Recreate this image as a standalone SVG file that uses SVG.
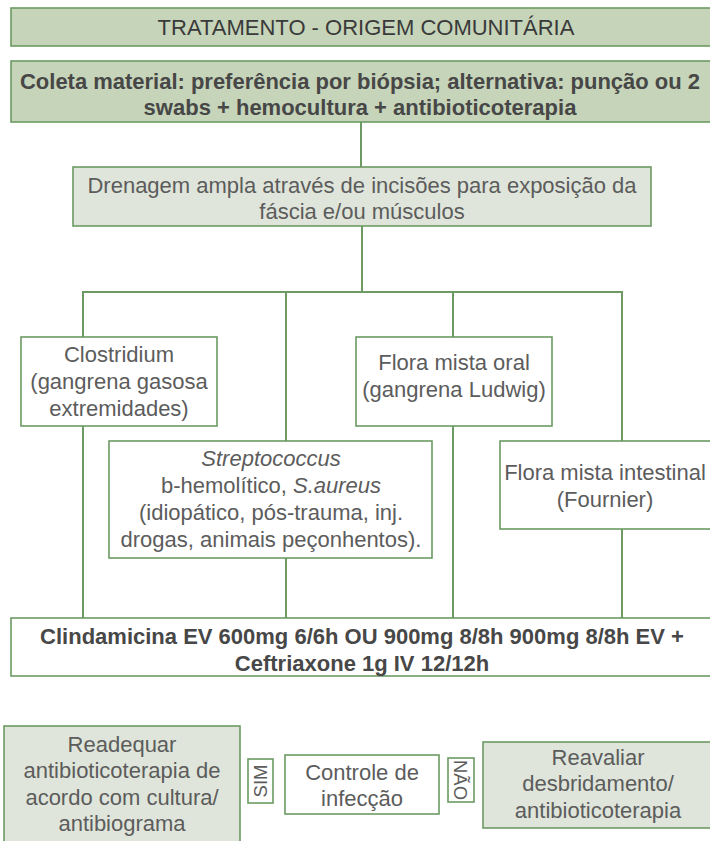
<svg xmlns="http://www.w3.org/2000/svg" width="710" height="841" viewBox="0 0 710 841">
  <style>
    .box { stroke: #6c9a62; stroke-width: 1.6; }
    .dark { fill: #c6d4b9; }
    .light { fill: #dfe5da; }
    .plain { fill: #ffffff; }
    .conn { stroke: #6c9a62; stroke-width: 2; fill: none; }
    text { font-family: "Liberation Sans", Arial, Helvetica, sans-serif; font-size: 22px; fill: #5c5c5c; text-anchor: middle; }
    .head { fill: #3a3a3a; }
    .strong { fill: #474747; font-weight: bold; }
    .tag { font-size: 18.5px; }
  </style>
  <rect width="710" height="841" fill="#ffffff"/>

  <!-- connectors -->
  <g id="connectors">
    <line class="conn" x1="361" y1="122" x2="361" y2="167"/>
    <line class="conn" x1="362" y1="226" x2="362" y2="292"/>
    <line class="conn" x1="82" y1="292" x2="623" y2="292"/>
    <line class="conn" x1="83" y1="292" x2="83" y2="337"/>
    <line class="conn" x1="83" y1="426" x2="83" y2="618"/>
    <line class="conn" x1="286" y1="292" x2="286" y2="441"/>
    <line class="conn" x1="286" y1="558" x2="286" y2="618"/>
    <line class="conn" x1="453" y1="292" x2="453" y2="337"/>
    <line class="conn" x1="453" y1="426" x2="453" y2="618"/>
    <line class="conn" x1="622" y1="292" x2="622" y2="441"/>
    <line class="conn" x1="622" y1="529" x2="622" y2="618"/>
  </g>

  <g id="titulo">
    <rect class="box dark" x="11" y="8" width="706" height="38"/>
    <text class="head" x="366" y="35">TRATAMENTO - ORIGEM COMUNITÁRIA</text>
  </g>

  <g id="coleta">
    <rect class="box dark" x="11" y="61" width="706" height="61"/>
    <text class="strong" x="360" y="89" textLength="680" lengthAdjust="spacingAndGlyphs">Coleta material: preferência por biópsia; alternativa: punção ou 2</text>
    <text class="strong" x="360" y="115">swabs + hemocultura + antibioticoterapia</text>
  </g>

  <g id="drenagem">
    <rect class="box light" x="73" y="167" width="578" height="59"/>
    <text x="362" y="193">Drenagem ampla através de incisões para exposição da</text>
    <text x="362" y="219">fáscia e/ou músculos</text>
  </g>

  <g id="clostridium">
    <rect class="box plain" x="21" y="337" width="196" height="89"/>
    <text x="119" y="362">Clostridium</text>
    <text x="119" y="389">(gangrena gasosa</text>
    <text x="119" y="416">extremidades)</text>
  </g>

  <g id="flora-oral">
    <rect class="box plain" x="356" y="337" width="196" height="89"/>
    <text x="454" y="370">Flora mista oral</text>
    <text x="454" y="397">(gangrena Ludwig)</text>
  </g>

  <g id="streptococcus">
    <rect class="box plain" x="109" y="441" width="323" height="117"/>
    <text x="271" y="466" font-style="italic">Streptococcus</text>
    <text x="271" y="493">b-hemolítico, <tspan font-style="italic">S.aureus</tspan></text>
    <text x="271" y="520">(idiopático, pós-trauma, inj.</text>
    <text x="271" y="547">drogas, animais peçonhentos).</text>
  </g>

  <g id="flora-intestinal">
    <rect class="box plain" x="500" y="441" width="211" height="88"/>
    <text x="605" y="480">Flora mista intestinal</text>
    <text x="605" y="507">(Fournier)</text>
  </g>

  <g id="clindamicina">
    <rect class="box plain" x="11" y="618" width="706" height="58"/>
    <text class="strong" x="362" y="644">Clindamicina EV 600mg 6/6h OU 900mg 8/8h 900mg 8/8h EV +</text>
    <text class="strong" x="362" y="671">Ceftriaxone 1g IV 12/12h</text>
  </g>

  <g id="readequar">
    <rect class="box light" x="4" y="726" width="236" height="120"/>
    <text x="122" y="752">Readequar</text>
    <text x="122" y="778">antibioticoterapia de</text>
    <text x="122" y="805">acordo com cultura/</text>
    <text x="122" y="831">antibiograma</text>
  </g>

  <g id="sim">
    <rect class="box plain" x="248" y="759" width="25" height="44"/>
    <text class="tag" transform="translate(260.5 781) rotate(-90)" x="0" y="6.6">SIM</text>
  </g>

  <g id="controle">
    <rect class="box plain" x="285" y="755" width="154" height="59"/>
    <text x="362" y="780">Controle de</text>
    <text x="362" y="806">infecção</text>
  </g>

  <g id="nao">
    <rect class="box plain" x="448" y="758" width="26" height="44"/>
    <text class="tag" transform="translate(461 780) rotate(90)" x="0" y="6.6">NÃO</text>
  </g>

  <g id="reavaliar">
    <rect class="box light" x="483" y="742" width="229" height="86"/>
    <text x="598" y="765">Reavaliar</text>
    <text x="598" y="791">desbridamento/</text>
    <text x="598" y="818">antibioticoterapia</text>
  </g>
</svg>
